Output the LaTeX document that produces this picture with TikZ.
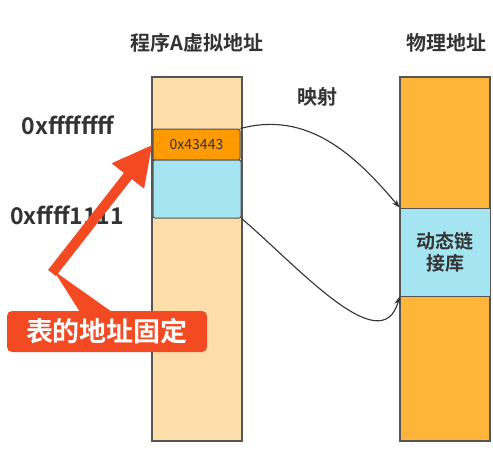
\documentclass[tikz,border=0pt]{standalone}
\usepackage{fontspec}
\setmainfont{Noto Sans CJK SC}[BoldFont={* Bold}]
\newfontfamily\cjkbold{Noto Sans CJK SC Bold}
\usetikzlibrary{positioning,arrows.meta}

\definecolor{virtfill}{HTML}{FDDDA9}
\definecolor{physfill}{HTML}{FFB43A}
\definecolor{tblfill}{HTML}{FF9A00}
\definecolor{libfill}{HTML}{A5E4F1}
\definecolor{notered}{HTML}{F34A23}
\definecolor{edgegray}{HTML}{555555}
\definecolor{txtgray}{HTML}{333333}

\tikzset{
  col/.style={draw=edgegray, line width=1.2pt, minimum width=90pt, minimum height=364pt, inner sep=0pt},
  seg/.style={draw=edgegray, line width=1pt, inner sep=0pt, text=txtgray},
  lbl/.style={text=txtgray, font=\cjkbold\fontsize{20}{24}\selectfont, inner sep=0pt},
  addr/.style={text=txtgray, font=\cjkbold\fontsize{23}{26}\selectfont, inner sep=0pt},
  maparrow/.style={draw=txtgray, line width=1.1pt, -{Stealth[length=8pt,width=6pt]}}
}

\begin{document}
\begin{tikzpicture}[x=1pt,y=-1pt]
\useasboundingbox (0,0) rectangle (493,469);
% column titles
\node[lbl] (vtitle) at (197,43) {程序A虚拟地址};
\node[lbl] (ptitle) at (446,43) {物理地址};
% virtual address space of A
\node[col, fill=virtfill] (virt) at (197,259) {};
\node[seg, fill=tblfill, rounded corners=2pt, minimum width=87pt, minimum height=31pt,
  font=\fontsize{14}{16}\selectfont] (tbl) at (196.5,144.5) {0x43443};
\node[seg, fill=libfill, rounded corners=2pt, minimum width=88pt, minimum height=58pt] (lib) at (197,189) {};
% physical memory
\node[col, fill=physfill] (phys) at (445,259) {};
\node[seg, fill=libfill, minimum width=90pt, minimum height=88pt, align=center,
  font=\cjkbold\fontsize{19}{22}\selectfont] (dyn) at (445,252) {动态链\\接库};
% addresses
\node[addr] (hiaddr) at (68,125) {0xffffffff};
\node[addr] (loaddr) at (67,215) {0xffff1111};
\node[lbl] (maplbl) at (317,97) {映射};
% mapping curves
\draw[maparrow] (tbl.north east) to[out=15,in=130] (dyn.north west);
\draw[maparrow] (lib.south east) to[out=-40,in=-105] (dyn.south west);
% callout
\node[fill=notered, rounded corners=5pt, minimum width=200pt, minimum height=41pt, text=white,
  font=\cjkbold\fontsize{27}{30}\selectfont] (note) at (107,331.5) {表的地址固定};
\coordinate (tail) at (52,273);
\fill[notered] (54,271) -- (80,312) -- (112,312) -- cycle;
\draw[notered, line width=10pt, -{Triangle[length=40pt,width=38pt]}] (tail) -- (tbl.west);
\end{tikzpicture}
\end{document}
